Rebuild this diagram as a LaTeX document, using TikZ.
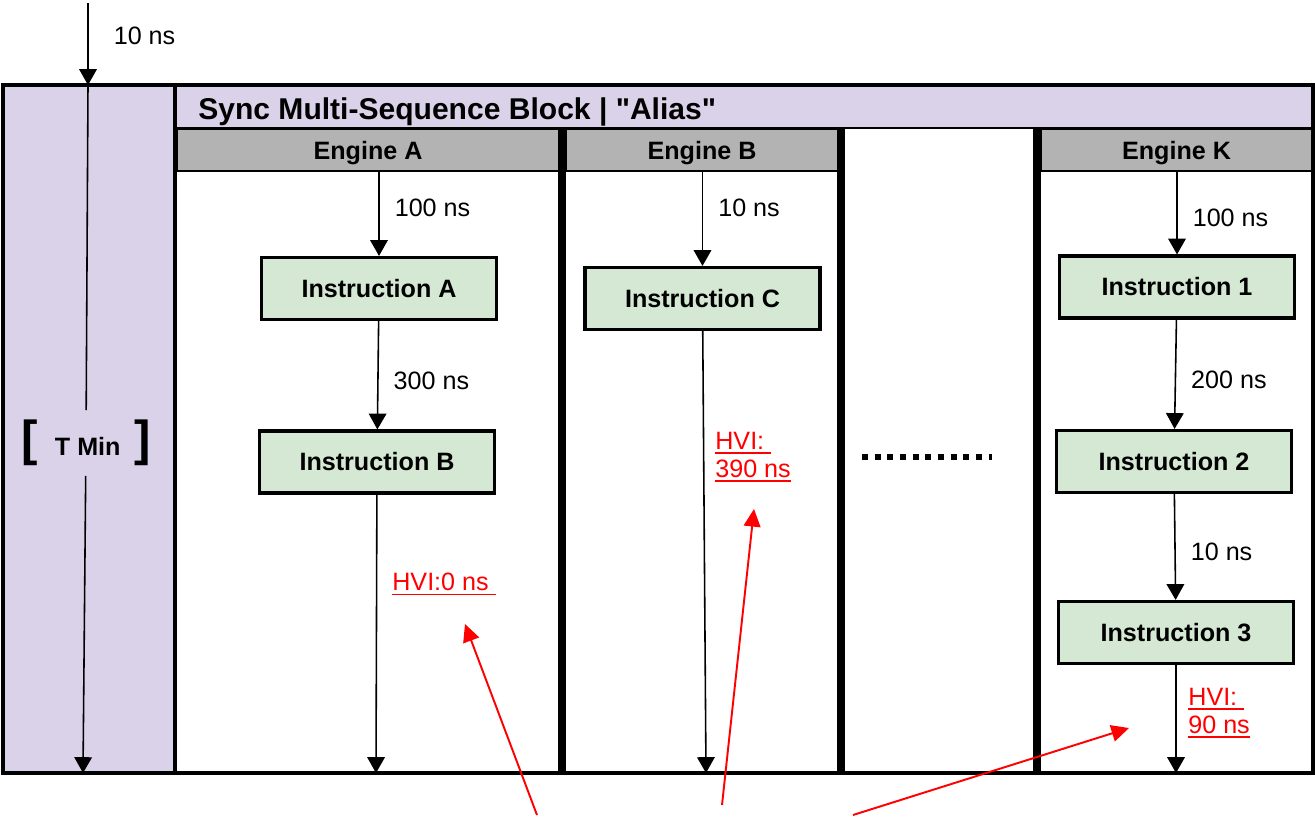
\documentclass[tikz,border=0pt]{standalone}
\usepackage{fontspec}
\setmainfont{Liberation Sans}
\usepackage{tikz}
\usepackage{xcolor}
\usetikzlibrary{arrows.meta}
\definecolor{tminpurple}{HTML}{D9D2E9}
\definecolor{hdrgray}{HTML}{B3B3B3}
\definecolor{instgreen}{HTML}{D5E8D4}
\newcommand{\hviul}[1]{\leavevmode\setbox0=\hbox{#1}\rlap{\rule[-2.6pt]{\wd0}{1.1pt}}\box0}
\tikzstyle{instr} = [
    rectangle, minimum width=4.70cm, minimum height=1.24cm,
    text centered, draw=black, line width=1.8pt, fill=instgreen,
    font=\fontsize{14.3}{17}\selectfont\bfseries
]
\tikzstyle{enghdr} = [
    rectangle, minimum height=0.84cm, text centered, text depth=0pt,
    draw=black, line width=0.6pt, fill=hdrgray,
    font=\fontsize{14.3}{17}\selectfont\bfseries
]
\tikzstyle{delay} = [font=\fontsize{14.3}{17}\selectfont, anchor=west, inner sep=0pt, xshift=0.3cm]
\tikzstyle{hvi} = [font=\fontsize{14.3}{16}\selectfont, text=red, anchor=north west, inner sep=0pt, align=left]
\tikzstyle{arrow} = [line width=0.9pt, -{Triangle[length=9pt, width=10pt]}]
\tikzstyle{redarrow} = [line width=1.1pt, red, -{Triangle[length=10pt, width=9.5pt]}]
\tikzstyle{separator} = [line width=4pt]

\begin{document}
\begin{tikzpicture}[x=0.02cm, y=-0.02cm]
    \useasboundingbox (0,0) rectangle (1315,818);

    \fill[tminpurple] (3,85) rectangle (175,773);
    \fill[tminpurple] (175,85) rectangle (1313,128);
    \draw[line width=0.8pt] (175,128) -- (1313,128);
    \node (title) [anchor=base west, inner sep=0pt, font=\fontsize{17.1}{20}\selectfont\bfseries]
        at (198,119) {Sync Multi-Sequence Block | \textquotedbl Alias\textquotedbl};

    \node (hdrA) [enghdr, minimum width=7.64cm] at (368,150) {Engine A};
    \node (hdrB) [enghdr, minimum width=5.44cm] at (702,150) {Engine B};
    \node (hdrK) [enghdr, minimum width=5.42cm] at (1176.5,150) {Engine K};

    \draw[separator] (562,128) -- (562,773);
    \draw[separator] (841,128) -- (841,773);
    \draw[separator] (1037,128) -- (1037,773);
    \draw[line width=2pt] (175,85) -- (175,773);
    \draw[line width=2.3pt] (3,85) rectangle (1313,773);

    \node (tmin) [inner sep=5.5pt, font=\fontsize{14.3}{17}\selectfont\bfseries] at (86,443)
        {{\fontsize{28}{30}\selectfont[}\hspace{10pt}T Min\hspace{8pt}{\fontsize{28}{30}\selectfont]}};
    \coordinate (tsrc) at (88,3);
    \coordinate (ttop) at (88,85);
    \coordinate (tbot) at (83,773);
    \draw [arrow] (tsrc) -- (ttop) node[delay, pos=0.4, xshift=0.2cm] {10 ns};
    \draw [line width=0.9pt] (ttop) -- (tmin);
    \draw [arrow] (tmin) -- (tbot);

    \node (instA) [instr] at (379,288.5) {Instruction A};
    \node (instB) [instr] at (377,462) {Instruction B};
    \coordinate (botA) at (376,773);
    \draw [arrow] (instA.north |- hdrA.south) -- (instA) node[delay, pos=0.43] {100 ns};
    \draw [arrow] (instA) -- (instB) node[delay, pos=0.55] {300 ns};
    \draw [arrow] (instB) -- (botA);
    \node (hviA) [hvi] at (392,573) {\hviul{HVI:0 ns\ }};

    \node (instC) [instr] at (702.5,298.5) {Instruction C};
    \coordinate (botB) at (706,773);
    \draw [arrow] (instC.north |- hdrB.south) -- (instC) node[delay, pos=0.39] {10 ns};
    \draw [arrow] (instC) -- (botB);
    \node (hviB) [hvi] at (715,432) {\hviul{HVI:\ }\\\hviul{390 ns}};

    \draw[line width=3pt, dash pattern=on 3.4pt off 3.8pt] (862,457) -- (992,457);

    \node (inst1) [instr] at (1177,287) {Instruction 1};
    \node (inst2) [instr] at (1174,461.5) {Instruction 2};
    \node (inst3) [instr] at (1176,632.5) {Instruction 3};
    \coordinate (botK) at (1176,773);
    \draw [arrow] (inst1.north |- hdrK.south) -- (inst1) node[delay, pos=0.56] {100 ns};
    \draw [arrow] (inst1) -- (inst2) node[delay, pos=0.55] {200 ns};
    \draw [arrow] (inst2) -- (inst3) node[delay, pos=0.55] {10 ns};
    \draw [arrow] (inst3) -- (botK);
    \node (hviK) [hvi] at (1188,688) {\hviul{HVI:\ }\\\hviul{90 ns}};

    \coordinate (ptrA) at (537,815);
    \coordinate (tipA) at (465,624);
    \coordinate (ptrB) at (722,805);
    \coordinate (tipB) at (754,509);
    \coordinate (ptrK) at (853,815);
    \coordinate (tipK) at (1129,728);
    \draw [redarrow] (ptrA) -- (tipA);
    \draw [redarrow] (ptrB) -- (tipB);
    \draw [redarrow] (ptrK) -- (tipK);
\end{tikzpicture}
\end{document}
